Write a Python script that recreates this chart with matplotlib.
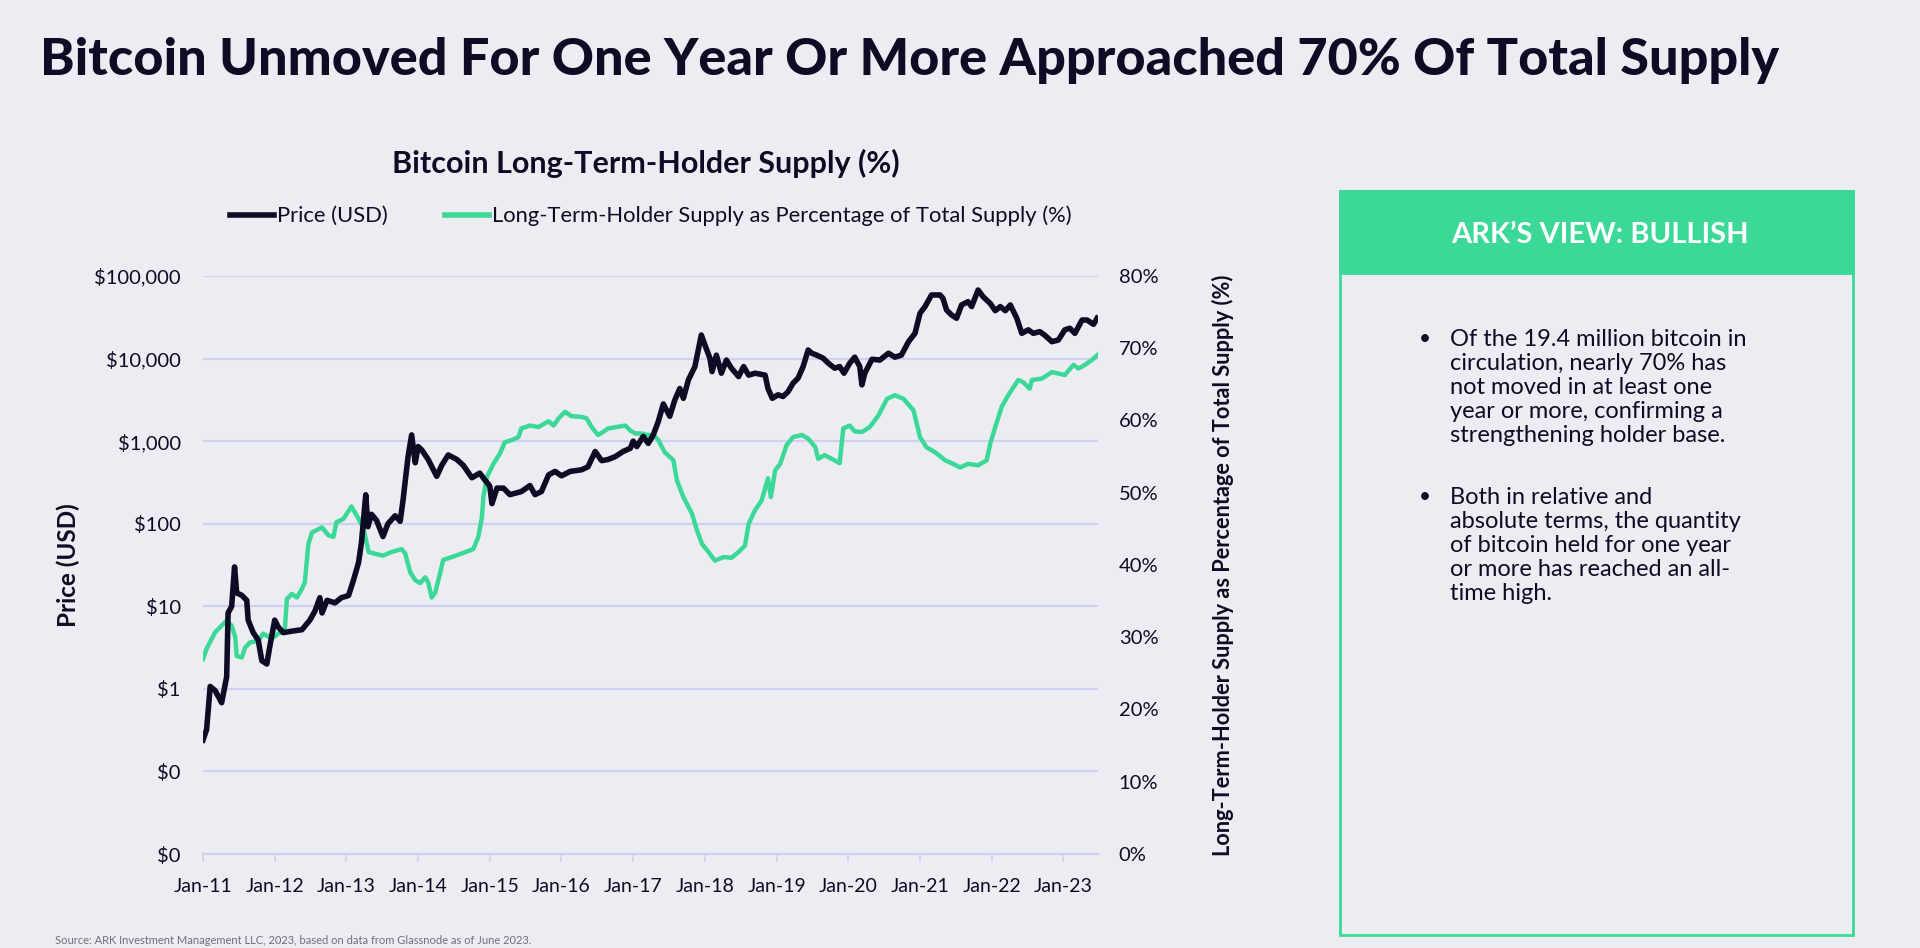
import math
import matplotlib
matplotlib.use("Agg")
import matplotlib.pyplot as plt
import matplotlib.ticker as ticker
from matplotlib.patches import Rectangle
from matplotlib.lines import Line2D

# price (USD), time as decimal year
price_t = [2011.00, 2011.05, 2011.10, 2011.17, 2011.26, 2011.33, 2011.35, 2011.40, 2011.44, 2011.47,
           2011.54, 2011.61, 2011.63, 2011.70, 2011.77, 2011.82, 2011.89, 2011.93, 2012.00, 2012.05,
           2012.12, 2012.24, 2012.38, 2012.49, 2012.56, 2012.63, 2012.66, 2012.73, 2012.84, 2012.93,
           2013.03, 2013.10, 2013.17, 2013.21, 2013.27, 2013.30, 2013.35, 2013.42, 2013.51, 2013.58,
           2013.68, 2013.75, 2013.79, 2013.86, 2013.91, 2013.96, 2014.00, 2014.05, 2014.14, 2014.26,
           2014.33, 2014.42, 2014.54, 2014.63, 2014.75, 2014.86, 2014.93, 2015.00, 2015.03, 2015.10,
           2015.19, 2015.28, 2015.44, 2015.56, 2015.63, 2015.72, 2015.82, 2015.91, 2016.00, 2016.12,
           2016.28, 2016.37, 2016.47, 2016.56, 2016.65, 2016.75, 2016.86, 2016.96, 2017.00, 2017.05,
           2017.14, 2017.21, 2017.28, 2017.35, 2017.42, 2017.51, 2017.58, 2017.65, 2017.70, 2017.77,
           2017.86, 2017.95, 2018.00, 2018.07, 2018.10, 2018.16, 2018.23, 2018.30, 2018.37, 2018.47,
           2018.54, 2018.61, 2018.70, 2018.84, 2018.88, 2018.94, 2019.02, 2019.09, 2019.16, 2019.23,
           2019.30, 2019.37, 2019.44, 2019.49, 2019.56, 2019.65, 2019.72, 2019.81, 2019.88, 2019.94,
           2020.02, 2020.09, 2020.16, 2020.19, 2020.23, 2020.33, 2020.44, 2020.56, 2020.65, 2020.74,
           2020.84, 2020.93, 2021.00, 2021.07, 2021.16, 2021.28, 2021.32, 2021.37, 2021.44, 2021.51,
           2021.58, 2021.67, 2021.72, 2021.81, 2021.88, 2021.98, 2022.05, 2022.12, 2022.19, 2022.26,
           2022.35, 2022.42, 2022.51, 2022.58, 2022.67, 2022.74, 2022.84, 2022.93, 2023.02, 2023.09,
           2023.16, 2023.26, 2023.33, 2023.42, 2023.47]
price_usd = [0.24, 0.32, 1.07, 0.95, 0.68, 1.4, 8.3, 10, 30, 14.5,
             13.6, 11.8, 6.8, 4.8, 3.9, 2.2, 2.0, 3.2, 6.8, 5.6,
             4.8, 5.0, 5.2, 6.8, 8.7, 12.7, 8.3, 11.8, 11, 12.7,
             13.5, 20.9, 34, 59, 224, 92, 130, 110, 70, 100,
             125, 107, 193, 650, 1190, 547, 860, 785, 600, 375,
             510, 680, 600, 510, 360, 410, 340, 285, 175, 270,
             270, 225, 245, 290, 225, 245, 390, 430, 380, 430,
             450, 490, 750, 580, 600, 650, 750, 820, 1000, 860,
             1140, 940, 1190, 1730, 2820, 2000, 3140, 4340, 3300, 5530,
             7950, 19300, 14600, 10100, 6950, 11000, 6650, 9600, 7650, 6050,
             8000, 6300, 6650, 6300, 4340, 3300, 3640, 3470, 3970, 5040,
             5800, 8000, 12700, 11600, 11000, 10100, 8800, 7650, 8000, 6650,
             8800, 10400, 8000, 4800, 6650, 9800, 9600, 11600, 10400, 11000,
             16000, 20200, 35400, 42600, 58900, 58900, 53700, 38800, 33700, 30800,
             44600, 48900, 42600, 67700, 56100, 46500, 38000, 42600, 38000, 44600,
             30800, 20200, 22300, 20200, 21200, 19200, 16000, 16800, 22300, 23300,
             20200, 29300, 29300, 26000, 30800]

# long-term-holder supply (% of total supply)
lth_t = [2011.00, 2011.05, 2011.17, 2011.26, 2011.33, 2011.40, 2011.45, 2011.47, 2011.54, 2011.59,
         2011.66, 2011.77, 2011.84, 2011.96, 2012.05, 2012.14, 2012.17, 2012.24, 2012.31, 2012.38,
         2012.42, 2012.47, 2012.52, 2012.66, 2012.75, 2012.82, 2012.86, 2012.96, 2013.07, 2013.17,
         2013.24, 2013.31, 2013.38, 2013.51, 2013.63, 2013.77, 2013.82, 2013.89, 2013.96, 2014.03,
         2014.10, 2014.14, 2014.19, 2014.24, 2014.31, 2014.35, 2014.47, 2014.61, 2014.77, 2014.84,
         2014.89, 2014.91, 2014.96, 2015.05, 2015.14, 2015.21, 2015.31, 2015.40, 2015.44, 2015.56,
         2015.68, 2015.82, 2015.89, 2015.96, 2016.05, 2016.14, 2016.28, 2016.35, 2016.42, 2016.51,
         2016.58, 2016.65, 2016.77, 2016.89, 2016.96, 2017.03, 2017.12, 2017.19, 2017.28, 2017.35,
         2017.44, 2017.56, 2017.61, 2017.70, 2017.82, 2017.89, 2017.96, 2018.05, 2018.14, 2018.26,
         2018.37, 2018.47, 2018.56, 2018.61, 2018.70, 2018.79, 2018.88, 2018.92, 2018.98, 2019.05,
         2019.14, 2019.23, 2019.35, 2019.44, 2019.54, 2019.58, 2019.67, 2019.77, 2019.88, 2019.93,
         2020.02, 2020.09, 2020.19, 2020.30, 2020.42, 2020.54, 2020.65, 2020.77, 2020.91, 2021.00,
         2021.09, 2021.21, 2021.35, 2021.46, 2021.56, 2021.67, 2021.81, 2021.93, 2021.98, 2022.05,
         2022.14, 2022.23, 2022.37, 2022.44, 2022.53, 2022.56, 2022.70, 2022.84, 2022.93, 2023.02,
         2023.14, 2023.21, 2023.30, 2023.40, 2023.48]
lth_pct = [27.0, 28.4, 30.7, 31.6, 32.3, 31.6, 30.0, 27.4, 27.2, 28.6,
           29.3, 29.5, 30.5, 29.8, 30.5, 30.9, 35.3, 36.0, 35.5, 36.7,
           37.6, 42.9, 44.5, 45.2, 44.1, 43.9, 45.9, 46.4, 48.1, 46.4,
           45.0, 41.8, 41.6, 41.3, 41.8, 42.2, 41.6, 39.0, 37.9, 37.5,
           38.3, 37.6, 35.5, 36.2, 39.0, 40.7, 41.1, 41.6, 42.2, 43.9,
           46.6, 49.4, 52.2, 54.0, 55.4, 57.0, 57.3, 57.7, 58.9, 59.3,
           59.1, 59.9, 59.3, 60.3, 61.2, 60.6, 60.5, 60.3, 59.1, 58.0,
           58.4, 58.9, 59.1, 59.3, 58.6, 58.2, 58.2, 58.0, 58.0, 57.3,
           55.6, 54.5, 51.7, 49.4, 47.1, 44.8, 42.9, 41.8, 40.6, 41.1,
           41.0, 41.8, 42.7, 45.7, 47.6, 48.9, 52.0, 49.4, 53.1, 54.0,
           56.6, 57.7, 58.0, 57.5, 56.3, 54.7, 55.2, 54.7, 54.1, 58.9,
           59.3, 58.5, 58.4, 59.1, 60.7, 63.0, 63.5, 63.0, 61.4, 57.7,
           56.3, 55.6, 54.5, 54.0, 53.5, 54.0, 53.8, 54.5, 56.8, 59.1,
           61.9, 63.5, 65.6, 65.3, 64.4, 65.6, 65.8, 66.7, 66.5, 66.3,
           67.7, 67.2, 67.7, 68.4, 69.1]

years = list(range(2011, 2024))
year_labels = ["Jan-%02d" % (y % 100) for y in years]
price_ticks = [0.01, 0.1, 1, 10, 100, 1000, 10000, 100000]
price_labels = ["$0", "$0", "$1", "$10", "$100", "$1,000", "$10,000", "$100,000"]
pct_ticks = [0, 10, 20, 30, 40, 50, 60, 70, 80]

bullets = [
    "Of the 19.4 million bitcoin in\ncirculation, nearly 70% has\nnot moved in at least one\nyear or more, confirming a\nstrengthening holder base.",
    "Both in relative and\nabsolute terms, the quantity\nof bitcoin held for one year\nor more has reached an all-\ntime high.",
]

BG = "#ECEDF2"
NAVY = "#0E0B24"
GREEN = "#3BD898"
GRID = "#D2D0F2"

plt.rcParams["font.family"] = ["Lato", "DejaVu Sans"]

fig = plt.figure(figsize=(19.2, 9.48), dpi=100, facecolor=BG)
ax = fig.add_axes([203 / 1920, 1 - 854 / 948, 895 / 1920, 578 / 948])
ax.set_facecolor(BG)
ax2 = ax.twinx()

ax.plot(price_t, price_usd, color=NAVY, lw=4.0, solid_joinstyle="round", zorder=3)
ax2.plot(lth_t, lth_pct, color=GREEN, lw=3.2, solid_joinstyle="round", zorder=2)
# price line drawn over the green one
ax.set_zorder(ax2.get_zorder() + 1)
ax.patch.set_visible(False)
ax2.patch.set_facecolor(BG)

ax.set_yscale("log")
ax.set_ylim(0.01, 100000)
ax.set_xlim(2011.0, 2011 + 895 / 71.7)
ax2.set_ylim(0, 80)

ax.yaxis.set_major_locator(ticker.FixedLocator(price_ticks))
ax.yaxis.set_major_formatter(ticker.FixedFormatter(price_labels))
ax.yaxis.set_minor_locator(ticker.NullLocator())
ax.xaxis.set_major_locator(ticker.FixedLocator(years))
ax.xaxis.set_major_formatter(ticker.FixedFormatter(year_labels))
ax2.yaxis.set_major_locator(ticker.FixedLocator(pct_ticks))
ax2.yaxis.set_major_formatter(ticker.FuncFormatter(lambda v, p: "%d%%" % v))

# gridlines follow the price ticks, drawn behind both lines
for t in price_ticks[1:]:
    ax2.axhline(80 * (math.log10(t) + 2) / 7, color=GRID, lw=1.6, zorder=0)

for s in ["top", "right", "left"]:
    ax.spines[s].set_visible(False)
    ax2.spines[s].set_visible(False)
ax.spines["bottom"].set_color(GRID)
ax.spines["bottom"].set_linewidth(1.6)
ax2.spines["bottom"].set_visible(False)

ax.tick_params(axis="y", length=0, pad=16, labelsize=14.5, labelcolor=NAVY)
ax.tick_params(axis="x", length=6, width=1.2, color=GRID, pad=11, labelsize=14, labelcolor=NAVY)
ax2.tick_params(axis="y", length=0, pad=15, labelsize=14.5, labelcolor=NAVY)

ax.set_ylabel("Price (USD)", fontsize=17.5, fontweight="bold", color=NAVY)
ax.yaxis.set_label_coords(-0.137, 0.5)
ax2.set_ylabel("Long-Term-Holder Supply as Percentage of Total Supply (%)", fontsize=15.7,
               fontweight="bold", color=NAVY, rotation=90)
ax2.yaxis.set_label_coords(1.127, 0.5)

fig.text(40 / 1920, 1 - 60 / 948, "Bitcoin Unmoved For One Year Or More Approached 70% Of Total Supply",
         fontsize=37.5, fontweight="black", color=NAVY, va="center", ha="left")
fig.text(646 / 1920, 1 - 163 / 948, "Bitcoin Long-Term-Holder Supply (%)",
         fontsize=22, fontweight="bold", color=NAVY, ha="center", va="center")

handles = [Line2D([], [], color=NAVY, lw=4), Line2D([], [], color=GREEN, lw=4)]
fig.legend(handles, ["Price (USD)", "Long-Term-Holder Supply as Percentage of Total Supply (%)"],
           loc="center", bbox_to_anchor=(651 / 1920, 1 - 216 / 948), ncol=2, frameon=False,
           fontsize=15.8, handlelength=2.0, handletextpad=0.15, columnspacing=2.6, labelcolor=NAVY)

# ARK's view panel
fig.patches.append(Rectangle((1340 / 1920, 1 - 935 / 948), 513 / 1920, 744 / 948,
                             transform=fig.transFigure, facecolor="none", edgecolor=GREEN, lw=2))
fig.patches.append(Rectangle((1340 / 1920, 1 - 273 / 948), 513 / 1920, 82 / 948,
                             transform=fig.transFigure, facecolor=GREEN, edgecolor=GREEN, lw=2))
fig.text(1600 / 1920, 1 - 235 / 948, "ARK\u2019S VIEW: BULLISH", color="white", fontsize=21,
         fontweight="bold", ha="center", va="center")
for b, top in zip(bullets, [329, 487]):
    fig.text(1425 / 1920, 1 - top / 948, "\u2022", fontsize=15, color=NAVY, ha="center", va="top")
    fig.text(1450 / 1920, 1 - top / 948, b, fontsize=17, color=NAVY, ha="left", va="top", linespacing=1.18)

fig.text(55 / 1920, 1 - 946 / 948, "Source: ARK Investment Management LLC, 2023, based on data from Glassnode as of June 2023.",
         fontsize=8, color="#6E6E80", ha="left", va="bottom")

fig.savefig("out.png", dpi=100, facecolor=BG)
